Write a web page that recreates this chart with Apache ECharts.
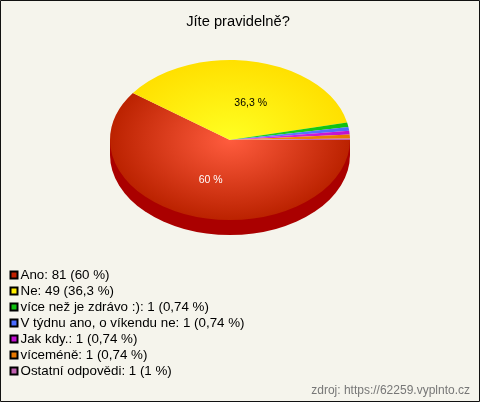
<!DOCTYPE html>
<html><head><meta charset="utf-8">
<style>html,body{margin:0;padding:0;background:#F5F4EC}#c{width:480px;height:402px}</style>
<script src="https://cdn.jsdelivr.net/npm/echarts@6/dist/echarts.min.js"></script>
</head><body><div id="c"></div>
<script>
const categories = ['Ano','Ne','více než je zdrávo :)','V týdnu ano, o víkendu ne','Jak kdy.','víceméně','Ostatní odpovědi'];
const counts = [81,49,1,1,1,1,1];
const percentLabels = ['60 %','36,3 %','0,74 %','0,74 %','0,74 %','0,74 %','1 %'];
// slice shares as drawn in the picture
const sliceShares = [60,36.5,0.9,0.75,0.75,0.8,0.3];
const sliceLabels = ['60 %','36,3 %','','','','',''];
const labelColors = ['#fff','#000','#000','#000','#000','#000','#000'];
const legendColors = ['#C02000','#FFEE00','#10C010','#4A6CFF','#C010D0','#E87800','#C060B0'];
const innerColors = ['#FF5C3E','#FFFF22','#20D820','#6080FF','#E030F0','#FF9010','#D080C0'];
const outerColors = ['#BB2200','#FFE000','#10C010','#4A6CFF','#C010D0','#E87800','#C060B0'];

const CX=230, CY=140, RX=120, RY=80, DEPTH=15;
const total = sliceShares.reduce((a,b)=>a+b,0);
const names = categories.map((c,i)=>c+': '+counts[i]+' ('+percentLabels[i]+')');
function labelPos(i,m){
  // reference places the labels slightly off the mid-angle for the yellow slice
  const dx = i===1 ? 8 : 0, dy = i===1 ? 4 : 1;
  return {x:CX+Math.cos(m)*RX*0.52+dx, y:CY+Math.sin(m)*RY*0.52+dy};
}

const chart = echarts.init(document.getElementById('c'),null,{renderer:'canvas'});
const series = [{
  type:'custom', name:'side', coordinateSystem:'none', silent:true, z:1, data:[[1]],
  renderItem(){
    return {type:'group',children:[
      {type:'rect',shape:{x:CX-RX,y:CY,width:2*RX,height:DEPTH},style:{fill:'#AA0000'}},
      {type:'sector',x:CX,y:CY+DEPTH,scaleY:RY/RX,
       shape:{cx:0,cy:0,r:RX,r0:0,startAngle:0,endAngle:Math.PI,clockwise:true},style:{fill:'#AA0000'}}
    ]};
  }
}];
sliceShares.forEach((v,i)=>{
  series.push({
    type:'custom', name:names[i], coordinateSystem:'none', silent:true, z:2,
    itemStyle:{color:legendColors[i],borderColor:'#000',borderWidth:1},
    data:[[v,sliceShares.slice(0,i).reduce((a,b)=>a+b,0)]],
    renderItem(p,api){
      const a0=api.value(1)/total*2*Math.PI, a1=(api.value(1)+api.value(0))/total*2*Math.PI, m=(a0+a1)/2;
      const kids=[{type:'sector',x:CX,y:CY,scaleY:RY/RX,
        shape:{cx:0,cy:0,r:RX,r0:0,startAngle:a0,endAngle:a1,clockwise:true},
        style:{fill:new echarts.graphic.RadialGradient(0,0,RX,[{offset:0,color:innerColors[i]},{offset:1,color:outerColors[i]}],true)}}];
      if(sliceLabels[i]){
        const lp=labelPos(i,m);
        kids.push({type:'text',z2:10,x:lp.x,y:lp.y,
          style:{text:sliceLabels[i],fill:labelColors[i],font:'10.5px "Liberation Sans"',align:'center',verticalAlign:'middle'}});
      }
      return {type:'group',children:kids};
    }
  });
});
chart.setOption({
  animation:false,
  backgroundColor:'#F5F4EC',
  title:{text:'Jíte pravidelně?',left:233,top:9,textAlign:'center',
    textStyle:{color:'#000',fontFamily:'Liberation Sans',fontSize:14.7,fontWeight:'normal'}},
  legend:{orient:'vertical',left:9.5,top:267.5,itemWidth:7,itemHeight:7,itemGap:1,padding:0,icon:'rect',
    data:names,selectedMode:false,
    textStyle:{color:'#000',fontFamily:'Liberation Sans',fontSize:13.35,padding:[0,0,0,-2],lineHeight:15,height:15}},
  graphic:[
    {type:'rect',z:-1,silent:true,shape:{x:0.5,y:0.5,width:479,height:401},style:{fill:'none',stroke:'#111',lineWidth:1}},
    {type:'text',right:10,top:385,silent:true,style:{text:'zdroj: https://62259.vyplnto.cz',fill:'#777',font:'12px "Liberation Sans"'}}
  ],
  series
});
</script></body></html>
